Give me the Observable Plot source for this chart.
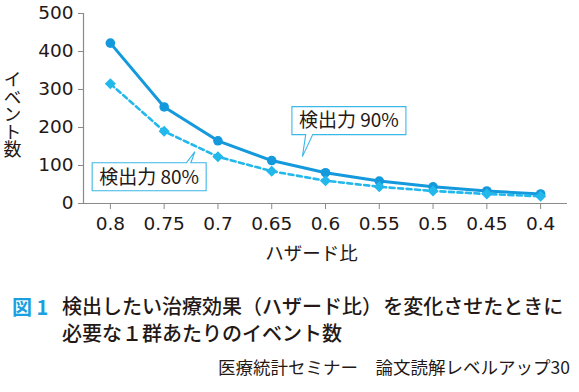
<!DOCTYPE html>
<html>
<head>
<meta charset="utf-8">
<script src="https://cdn.jsdelivr.net/npm/d3@7"></script>
<script src="https://cdn.jsdelivr.net/npm/@observablehq/plot@0.6"></script>
<style>
  html, body { margin: 0; padding: 0; background: #fff; }
  body { width: 579px; height: 392px; position: relative; overflow: hidden;
         font-family: "Noto Sans CJK JP", "Noto Sans", sans-serif; color: #231815; }
  #chart { position: absolute; left: 0; top: 0; }
  .cap { position: absolute; white-space: nowrap; }
  #fig { left: 12px; top: 292px; font-size: 20px; font-weight: bold; color: #1a9fe0; }
  #title { left: 62px; top: 292px; font-size: 20px; line-height: 27px; font-weight: 500; }
  #footer { right: 9px; top: 354px; font-size: 17.5px; }
</style>
</head>
<body>
<div id="chart"></div>
<div class="cap" id="fig">図 1</div>
<div class="cap" id="title">検出したい治療効果（ハザード比）&#8202;を変化させたときに<br>必要な１群あたりのイベント数</div>
<div class="cap" id="footer">医療統計セミナー　論文読解レベルアップ30</div>
<script>
// ---- data ----
const hazardRatios = [0.8, 0.75, 0.7, 0.65, 0.6, 0.55, 0.5, 0.45, 0.4];
const events90 = [422, 254, 165, 113, 81, 59, 44, 33, 25];
const events80 = [315, 190, 123, 85, 60, 44, 33, 25, 19];
const yTicks = [0, 100, 200, 300, 400, 500];
const xLabel = "ハザード比";
const yLabel = "イベント数";
const seriesNames = ["検出力 90%", "検出力 80%"];
// callout pointer targets (hazard ratio, events)
const calloutHR = [0.621, 0.721];
const calloutEvents = [122, 135];

const d90 = hazardRatios.map((h, i) => ({hr: h, ev: events90[i]}));
const d80 = hazardRatios.map((h, i) => ({hr: h, ev: events80[i]}));

const c90 = "#1499dc";
const c80 = "#22b8ec";
const axisColor = "#8a8a8a";
const font = "'Noto Sans CJK JP', 'Noto Sans', sans-serif";
const numFont = "'DejaVu Sans', 'Noto Sans', sans-serif";

const plot = Plot.plot({
  width: 579,
  height: 270,
  marginLeft: 83,
  marginRight: 12,
  marginTop: 13,
  marginBottom: 67,
  style: {fontFamily: font, fontSize: "18px", color: "#231815", background: "transparent", overflow: "visible"},
  x: {domain: [0.825, 0.375], label: null},
  y: {domain: [0, 500], label: null},
  marks: [
    Plot.ruleY([0], {stroke: axisColor, strokeWidth: 1.2}),
    Plot.ruleX([0.825], {y1: 0, y2: 500, stroke: axisColor, strokeWidth: 1.2}),
    Plot.axisX({ticks: hazardRatios, tickFormat: d => String(d), tickSize: 6, tickPadding: 7,
                stroke: axisColor, fill: "#231815", fontSize: 18.5, fontFamily: numFont, label: null}),
    Plot.axisY({ticks: yTicks, tickSize: 5, tickPadding: 5, stroke: axisColor,
                fill: "#231815", fontSize: 18.5, fontFamily: numFont, label: null}),
    Plot.line(d90, {x: "hr", y: "ev", stroke: c90, strokeWidth: 3}),
    Plot.dot(d90, {x: "hr", y: "ev", r: 4.8, fill: c90}),
    Plot.line(d80, {x: "hr", y: "ev", stroke: c80, strokeWidth: 2.6, strokeDasharray: "5,3.5"}),
    Plot.dot(d80, {x: "hr", y: "ev", r: 5, symbol: "diamond2", fill: c80}),
    Plot.text([xLabel], {frameAnchor: "bottom", dx: -14, dy: 56, fontSize: 18.5, fill: "#231815"}),
    Plot.text([yLabel], {frameAnchor: "left", dx: -71, fontSize: 18, fill: "#231815", textAnchor: "middle"})
  ]
});
document.getElementById("chart").appendChild(plot);

// vertical (upright) writing for the y-axis title
d3.select(plot).selectAll("text").filter(function () { return this.textContent === yLabel; })
  .attr("dy", null)
  .style("writing-mode", "vertical-rl")
  .style("text-orientation", "upright")
  .style("letter-spacing", "-0.5px");

// ---- callouts, positioned through the plot's scales ----
const sx = plot.scale("x"), sy = plot.scale("y");
const svg = d3.select(plot);
const g = svg.append("g").attr("font-family", font);
const boxW = 114, boxH = 28;
calloutHR.forEach((h, i) => {
  const tx = sx.apply(h), ty = sy.apply(calloutEvents[i]);
  let path, x0, y0;
  if (i === 0) {
    x0 = tx - 10.5; y0 = ty - 50;
    const x1 = x0 + boxW, y1 = y0 + boxH;
    const a = tx + 3.3, b = tx + 10.3;
    path = `M${x0},${y0}H${x1}V${y1}H${b}L${tx},${ty}L${a},${y1}H${x0}Z`;
  } else {
    x0 = tx - 102.7; y0 = ty + 11;
    const x1 = x0 + boxW, y1 = y0 + boxH;
    const a = tx - 8.3, b = tx - 4;
    path = `M${x0},${y0}H${a}L${tx},${ty}L${b},${y0}H${x1}V${y1}H${x0}Z`;
  }
  g.append("path").attr("d", path).attr("fill", "#fff").attr("stroke", "#3bb7e8").attr("stroke-width", 1.1);
  g.append("text").attr("x", x0 + boxW / 2).attr("y", y0 + boxH / 2).attr("dy", "0.36em")
    .attr("text-anchor", "middle").attr("font-size", 19).attr("fill", "#231815").text(seriesNames[i]);
});
</script>
</body>
</html>
